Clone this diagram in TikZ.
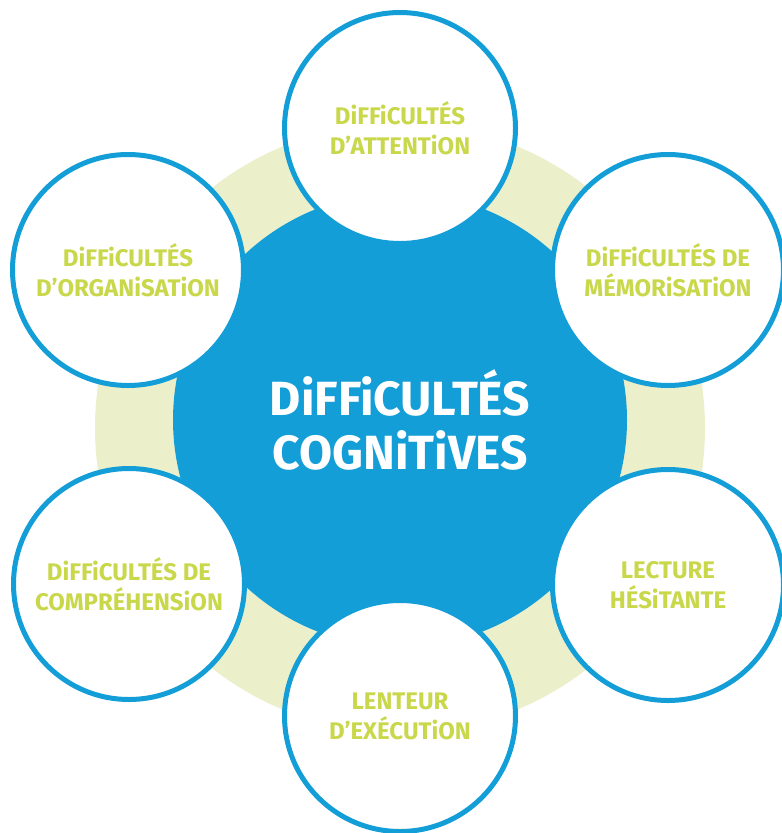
\documentclass[tikz,border=0pt]{standalone}
\usepackage{fontspec}
\setmainfont{Fira Sans}
\definecolor{cogblue}{HTML}{139ED8}
\definecolor{halogreen}{HTML}{EBF0CB}
\definecolor{textlime}{HTML}{C9D74A}
\tikzset{bubble/.style={circle,draw=cogblue,line width=5pt,fill=white,minimum size=231pt,inner sep=0pt,align=center,text=textlime,font=\bfseries\fontsize{24}{30}\selectfont},
         core/.style={circle,fill=cogblue,minimum size=454pt,inner sep=0pt,align=center,text=white,font=\bfseries\fontsize{48}{54}\selectfont},
         halo/.style={circle,fill=halogreen,minimum size=610pt,inner sep=0pt},
        }

\begin{document}
\begin{tikzpicture}[x=1pt,y=-1pt]
        \useasboundingbox (0,0) rectangle (782,833);
        \node[halo](ring)at(400,428){};
        \node[core](centre)at(400,420){DiFFiCULTÉS\\COGNiTiVES};

        \node[bubble](attention)at(400,128){DiFFiCULTÉS\\D’ATTENTiON};
        \node[bubble](memo)at(668,270){DiFFiCULTÉS DE\\MÉMORiSATiON};
        \node[bubble](lecture)at(668,585){LECTURE\\HÉSiTANTE};
        \node[bubble](lenteur)at(400,716){LENTEUR\\D’EXÉCUTiON};
        \node[bubble](compr)at(129,584){DiFFiCULTÉS DE\\COMPRÉHENSiON};
        \node[bubble](organ)at(128,270){DiFFiCULTÉS\\D’ORGANiSATiON};
    \end{tikzpicture}
\end{document}
